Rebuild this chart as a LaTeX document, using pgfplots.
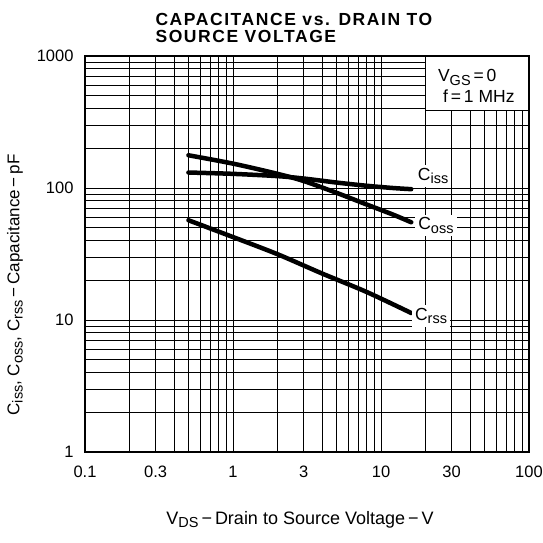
\documentclass[border=0pt]{standalone}
\usepackage{fontspec}
\setmainfont{Liberation Sans}
\usepackage{pgfplots}
\pgfplotsset{compat=1.18}
\newcommand{\sub}[1]{\raisebox{-0.35ex}{\fontsize{14.5}{15}\selectfont #1}}
\begin{document}
\begin{tikzpicture}[x=1pt,y=1pt]
\path[use as bounding box] (-85,-90) rectangle (458,452);
\begin{axis}[
  at={(0,0)}, anchor=south west,
  scale only axis, width=444pt, height=396pt,
  xmode=log, ymode=log,
  xmin=0.1, xmax=100, ymin=1, ymax=1000,
  xtick={0.1,0.3,1,3,10,30,100},
  xticklabels={0.1,0.3,1,3,10,30,100},
  ytick={1,10,100,1000},
  yticklabels={1,10,100,1000},
  minor xtick={0.2,0.4,0.5,0.6,0.7,0.8,0.9,2,4,5,6,7,8,9,20,40,50,60,70,80,90},
  minor ytick={2,3,4,5,6,7,8,9,20,30,40,50,60,70,80,90,200,300,400,500,600,700,800,900},
  grid=both,
  major grid style={black, line width=0.9pt},
  minor grid style={black, line width=0.9pt},
  major tick length=0pt, minor tick length=0pt,
  axis line style={black, line width=2.2pt},
  /pgf/number format/assume math mode=true,
  tick label style={font=\fontsize{16.5}{18}\selectfont},
  xticklabel style={anchor=north, yshift=-10pt, text height=12pt, text depth=0pt},
  yticklabel style={xshift=-8pt},
  clip=false,
]
\addplot[black, line width=4.5pt, smooth, line cap=round] coordinates {
  (0.5,131) (1,128) (2,123) (3,118) (5,110) (8,104) (12,100) (16,98)};
\addplot[black, line width=4.5pt, smooth, line cap=round] coordinates {
  (0.5,177) (1,153) (2,128) (3,113) (5,92) (8,75) (12,63) (16,55)};
\addplot[black, line width=4.5pt, smooth, line cap=round] coordinates {
  (0.5,57) (1,42.5) (2,31.5) (4,22.5) (8,16.3) (16,11.3)};
\node[fill=white, inner sep=3pt, font=\fontsize{17.5}{19}\selectfont] at (axis cs:22.5,123) {C\sub{iss}};
\node[fill=white, inner sep=3pt, font=\fontsize{17.5}{19}\selectfont] at (axis cs:23.5,52) {C\sub{oss}};
\node[fill=white, inner sep=3pt, font=\fontsize{17.5}{19}\selectfont] at (axis cs:21.8,10.7) {C\sub{rss}};
\draw[black, line width=0.9pt, fill=white] (axis cs:20,390) rectangle (axis cs:100,1000);
\node[anchor=west, align=left, font=\fontsize{17.5}{20}\selectfont] at (axis cs:23,590) {V\sub{GS}\,=\,0\\[1pt]\hspace{5pt}f\,=\,1 MHz};
\draw[black, line width=2.2pt] (rel axis cs:0,0) rectangle (rel axis cs:1,1);
\end{axis}
\node[anchor=west, align=left, font=\bfseries\fontsize{17.5}{16}\selectfont\addfontfeatures{LetterSpace=9}] at (67,424) {CAPACITANCE vs. DRAIN TO\\[1pt]SOURCE VOLTAGE};
\node[font=\fontsize{18}{19}\selectfont] at (215,-68) {V\sub{DS}\,−\,Drain to Source Voltage\,−\,V};
\node[rotate=90, font=\fontsize{17}{19}\selectfont] at (-70,167) {C\sub{iss}, C\sub{oss}, C\sub{rss}\,−\,Capacitance\,−\,pF};
\end{tikzpicture}
\end{document}
